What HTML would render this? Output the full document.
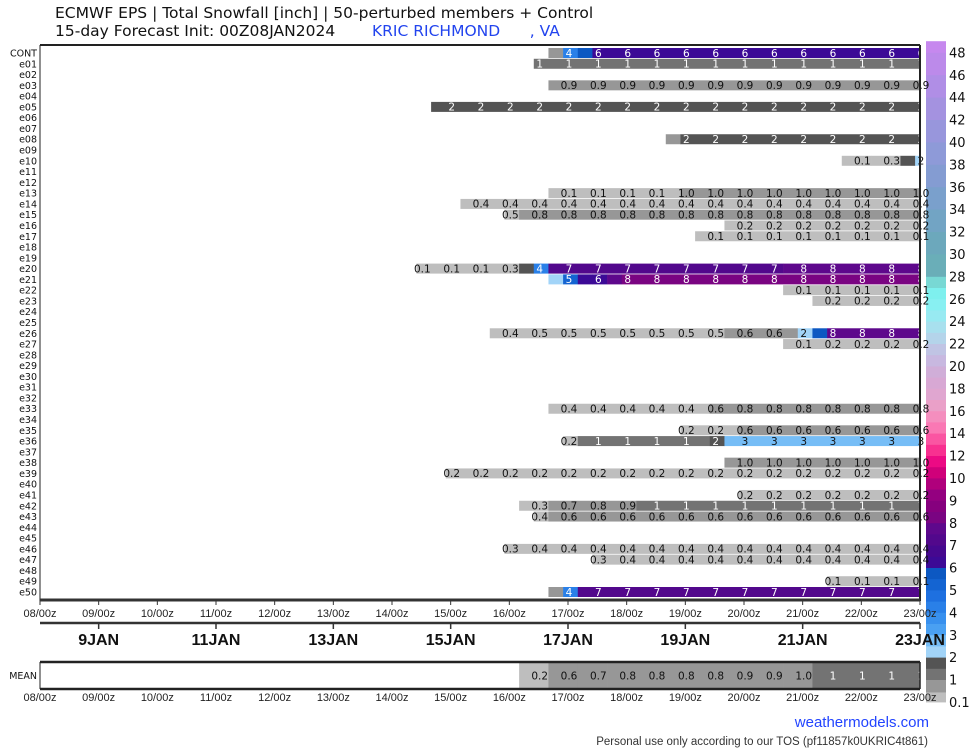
<!DOCTYPE html>
<html><head><meta charset="utf-8"><title>ECMWF EPS Total Snowfall KRIC</title>
<style>
html,body{margin:0;padding:0;background:#fff;}
svg{display:block;font-family:"DejaVu Sans","Liberation Sans",sans-serif;}
</style></head>
<body>
<svg id="chart" width="974" height="750" viewBox="0 0 974 750" xmlns="http://www.w3.org/2000/svg">
  <g id="cbar"></g>
  <text x="55" y="18" font-family="DejaVu Sans, sans-serif" font-size="15.5" fill="#111">ECMWF EPS | Total Snowfall [inch] | 50-perturbed members + Control</text>
  <text x="55" y="36" font-family="DejaVu Sans, sans-serif" font-size="15.5" fill="#111">15-day Forecast Init: 00Z08JAN2024</text>
  <text x="372" y="36" font-family="DejaVu Sans, sans-serif" font-size="15.5" fill="#2244ee" xml:space="preserve">KRIC RICHMOND      , VA</text>
  <g id="rows"></g>
  <g id="frame"></g>
  <g id="xaxis"></g>
  <g id="mean"></g>
  <text x="929" y="727" text-anchor="end" font-family="Liberation Sans, sans-serif" font-size="15" fill="#2244ff">weathermodels.com</text>
  <text x="928" y="745" text-anchor="end" font-family="Liberation Sans Narrow, Liberation Sans, sans-serif" font-size="11.5" fill="#333">Personal use only according to our TOS (pf11857k0UKRIC4t861)</text>
</svg>
<script>
const rowNames = ['CONT','e01','e02','e03','e04','e05','e06','e07','e08','e09','e10','e11','e12','e13','e14','e15','e16','e17','e18','e19','e20','e21','e22','e23','e24','e25','e26','e27','e28','e29','e30','e31','e32','e33','e34','e35','e36','e37','e38','e39','e40','e41','e42','e43','e44','e45','e46','e47','e48','e49','e50'];
// runs: [start hour since 08/00z, snowfall inches]
const memberRuns = [
  [[210,0.8],[216,4.2],[222,5.6],[228,6.2]],
  [[204,1.2]],
  [],
  [[210,0.9]],
  [],
  [[162,1.8]],
  [],
  [],
  [[258,0.8],[264,1.8]],
  [],
  [[330,0.1],[342,0.3],[354,1.8],[360,2.2]],
  [],
  [],
  [[210,0.1],[264,0.97]],
  [[174,0.4]],
  [[192,0.48],[198,0.8]],
  [[282,0.2]],
  [[270,0.1]],
  [],
  [],
  [[156,0.1],[192,0.3],[198,1.8],[204,4.2],[210,7.2],[306,7.9]],
  [[210,2.3],[216,5.3],[222,6.2],[228,6.4],[234,7.6],[240,8.4]],
  [[306,0.1]],
  [[318,0.2]],
  [],
  [],
  [[186,0.4],[198,0.48],[282,0.6],[312,2.2],[318,5.6],[324,7.9]],
  [[306,0.1],[318,0.2]],
  [],[],[],[],[],
  [[210,0.4],[276,0.6],[288,0.8]],
  [],
  [[264,0.2],[288,0.6]],
  [[216,0.2],[222,1.2],[276,1.7],[282,2.8]],
  [],
  [[282,0.97]],
  [[168,0.2]],
  [],
  [[288,0.2]],
  [[198,0.3],[210,0.7],[222,0.8],[234,0.9],[246,1.2]],
  [[204,0.4],[210,0.6]],
  [],
  [],
  [[192,0.3],[198,0.4]],
  [[228,0.3],[240,0.4]],
  [],
  [[324,0.1]],
  [[210,0.8],[216,4.2],[222,7.2]]
];
const meanRuns = [[198,0.2],[210,0.6],[222,0.7],[234,0.8],[282,0.9],[306,0.98],[318,1.1]];
const dayTickLabels = ['08/00z','09/00z','10/00z','11/00z','12/00z','13/00z','14/00z','15/00z','16/00z','17/00z','18/00z','19/00z','20/00z','21/00z','22/00z','23/00z'];
const dateLabels = ['9JAN','11JAN','13JAN','15JAN','17JAN','19JAN','21JAN','23JAN'];
const cbarLabelValues = [0.1,1,2,3,4,5,6,7,8,9,10,12,14,16,18,20,22,24,26,28,30,32,34,36,38,40,42,44,46,48];
const bandEdges = [0.1,0.5,1,1.5,2,2.5,3,3.5,4,4.5,5,5.5,6,6.5,7,7.5,8,8.5,9,9.5,10,11,12,13,14,15,16,17,18,19,20,21,22,23,24,25,26,27,28,30,32,34,36,38,40,42,44,46,48,49];
const bandColors = ['#bebebe','#979797','#737373','#545454','#a2d4f8','#76bdf6','#4aa0f2','#3890ee','#2a80e8','#1e70e0','#1464d2','#0c58c2','#3c0a96','#46088f','#52088c','#5e088c','#7a0482','#86007e','#940080','#b0007c','#d0007a','#ec0a84','#f83090','#fa55a2','#fa78b4','#f48ebe','#eaa0c8','#e0a6d0','#d8a8d4','#d0aed8','#c8b8e0','#c0c4e4','#b4d4ea','#a8e0ee','#98eaf2','#88f0f2','#7ef0ee','#78d8d4','#6aaeb8','#6ca8bc','#72a4c4','#7aa0cc','#849cd2','#8e9ad8','#9896dc','#a492e0','#b08ee6','#bc8aea','#c688ee'];

const NS='http://www.w3.org/2000/svg';
const X0=40, X1=920, HOURS=360;
function xOf(h){return X0 + h*(X1-X0)/HOURS;}
function rowY(i){return 53 + i*10.78;}
function colorOf(v){for(let i=0;i<bandColors.length;i++){if(v<bandEdges[i+1])return bandColors[i];}return bandColors[bandColors.length-1];}
function fmt(v){return v<1? v.toFixed(1) : String(Math.round(v));}
function textCol(v){return (v>=1 && !(v>=2 && v<3.5)) ? '#fff' : '#111';}
function mk(tag,attrs,parent){const e=document.createElementNS(NS,tag);for(const k in attrs)e.setAttribute(k,attrs[k]);parent.appendChild(e);return e;}

function drawRuns(runs, yc, h, g, name){
  for(let j=0;j<runs.length;j++){
    const s=runs[j][0], v=runs[j][1];
    const e=j+1<runs.length? runs[j+1][0] : HOURS+4;
    const xa=Math.max(X0,xOf(s-2)), xb=Math.min(X1,xOf(e-2));
    if(xb<=xa) continue;
    const r=mk('rect',{x:xa,y:yc-h/2,width:xb-xa+0.3,height:h,fill:colorOf(v)},g);
    
    
  }
  if(!runs.length) return;
  for(let L=0;L<=HOURS;L+=12){
    if(L+2<runs[0][0]) continue;
    let v=null;
    for(let j=0;j<runs.length;j++){ if(runs[j][0]<=L+2) v=runs[j][1]; }
    if(v===null) continue;
    const t=mk('text',{x:xOf(L)+1,y:yc+3.8,'text-anchor':'middle','font-size':10.5,fill:textCol(v)},g);
    t.textContent=fmt(v);
    
    
  }
}

const rowsG=document.getElementById('rows');
rowNames.forEach((nm,i)=>{
  const g=mk('g',{},rowsG);
  
  
  const lab=mk('text',{x:37,y:rowY(i)+3.5,'text-anchor':'end','font-size':9.5,fill:'#111'},g);
  lab.textContent=nm;
  
  
  drawRuns(memberRuns[i], rowY(i), 10, g, 'member-'+nm.toLowerCase());
});

const fr=document.getElementById('frame');
mk('line',{x1:X0,y1:45,x2:X1,y2:45,stroke:'#222','stroke-width':2},fr);
mk('line',{x1:X0,y1:45,x2:X0,y2:601,stroke:'#222','stroke-width':1},fr);
mk('line',{x1:X1,y1:45,x2:X1,y2:601,stroke:'#222','stroke-width':2},fr);
mk('line',{x1:X0,y1:600,x2:X1,y2:600,stroke:'#333','stroke-width':3},fr);

const xa=document.getElementById('xaxis');
dayTickLabels.forEach((lb,d)=>{
  const x=xOf(d*24);
  mk('line',{x1:x,y1:601,x2:x,y2:605,stroke:'#333','stroke-width':1},xa);
  const t=mk('text',{x:x,y:617,'text-anchor':'middle','font-family':'Liberation Sans Narrow, Liberation Sans, sans-serif','font-size':11,fill:'#222'},xa);
  t.textContent=lb;
  
  
});
mk('line',{x1:X0,y1:623,x2:X1,y2:623,stroke:'#333','stroke-width':2.5},xa);
dateLabels.forEach((lb,k)=>{
  const x=xOf((1+2*k)*24);
  mk('line',{x1:x,y1:623,x2:x,y2:629,stroke:'#333','stroke-width':1.5},xa);
  const t=mk('text',{x:x,y:645,'text-anchor':'middle','font-family':'Liberation Sans Narrow, Liberation Sans, sans-serif','font-size':16,'font-weight':'bold',fill:'#111'},xa);
  t.textContent=lb;
  
  
});

const mg=document.getElementById('mean');
const ml=mk('text',{x:37,y:679,'text-anchor':'end','font-size':9.5,fill:'#111'},mg);
ml.textContent='MEAN';


drawRuns(meanRuns, 675.5, 25, mg, 'mean');
mk('line',{x1:X0,y1:662,x2:X1,y2:662,stroke:'#222','stroke-width':2.5},mg);
mk('line',{x1:X0,y1:689,x2:X1,y2:689,stroke:'#222','stroke-width':2.5},mg);
mk('line',{x1:X0,y1:662,x2:X0,y2:689,stroke:'#222','stroke-width':1},mg);
mk('line',{x1:X1,y1:662,x2:X1,y2:689,stroke:'#222','stroke-width':1.5},mg);
dayTickLabels.forEach((lb,d)=>{
  const x=xOf(d*24);
  const t=mk('text',{x:x,y:701,'text-anchor':'middle','font-family':'Liberation Sans Narrow, Liberation Sans, sans-serif','font-size':11,fill:'#222'},mg);
  t.textContent=lb;
  
  
});

function cbY(v){
  const L=cbarLabelValues;
  if(v>=L[L.length-1]) return 702-(L.length-1)*22.4-(v-L[L.length-1])/2*22.4;
  for(let i=0;i<L.length-1;i++){ if(v<=L[i+1]) return 702-(i+(v-L[i])/(L[i+1]-L[i]))*22.4; }
  return 702;
}
const cb=document.getElementById('cbar');
for(let i=0;i<bandColors.length;i++){
  const ya=cbY(bandEdges[i+1]), yb=cbY(bandEdges[i]);
  const r=mk('rect',{x:926,y:ya,width:20,height:yb-ya+0.4,fill:bandColors[i]},cb);
  
  
}
cbarLabelValues.forEach(v=>{
  const t=mk('text',{x:949,y:cbY(v)+5,'font-size':13,fill:'#111'},cb);
  t.textContent=String(v);
  
  
});
</script>
</body></html>
